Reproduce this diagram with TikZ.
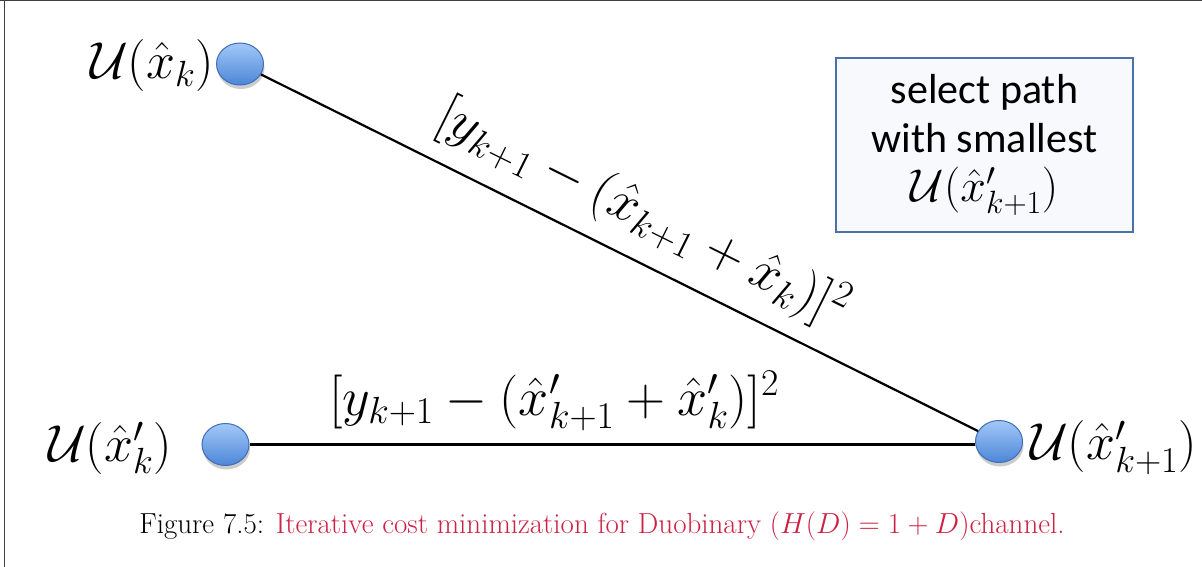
\RequirePackage{fix-cm}
\documentclass[tikz,border=0pt]{standalone}
\usepackage{amsmath}
\usepackage{fontspec}
\newfontfamily\calibri{Carlito}
\usetikzlibrary{shadows,shapes.geometric}
\definecolor{nodetop}{HTML}{A3C8F8}
\definecolor{nodebot}{HTML}{4C86D8}
\definecolor{nodeline}{HTML}{3F6EB4}
\definecolor{boxline}{HTML}{4A72A8}
\definecolor{boxfill}{HTML}{F7F9FC}
\definecolor{capred}{HTML}{CC2244}
\tikzset{
  dot/.style={ellipse, minimum width=47pt, minimum height=42pt, inner sep=0pt,
    draw=nodeline, line width=1pt, top color=nodetop, bottom color=nodebot,
    drop shadow={shadow xshift=1pt, shadow yshift=-4pt, opacity=0.2, fill=black}},
  lbl/.style={inner sep=0pt, font=\fontsize{52}{60}\selectfont},
  elbl/.style={inner sep=0pt, font=\fontsize{54}{62}\selectfont},
  edge/.style={line width=2.2pt, black},
  frame/.style={line width=1pt, black!75},
}
\begin{document}
\begin{tikzpicture}[x=1pt,y=-1pt]
\useasboundingbox (0,0) rectangle (1202,567);
\draw[frame] (0,1) -- (1202,1);
\draw[frame] (4,0) -- (4,567);
\node[dot] (a) at (240,64) {};
\node[dot] (b) at (225.5,444.5) {};
\node[dot] (c) at (999,441.5) {};
\draw[edge] (a) -- (c);
\draw[edge] (b) -- (b -| c.west);
\node[lbl, anchor=east] (la) at (214,66) {$\mathcal{U}(\hat{x}_k)$};
\node[lbl, anchor=east] (lb) at (172,448) {$\mathcal{U}(\hat{x}'_k)$};
\node[lbl, anchor=west] (lc) at (1030,448) {$\mathcal{U}(\hat{x}'_{k+1})$};
\node[elbl] (e2) at (554,401) {$[y_{k+1}-(\hat{x}'_{k+1}+\hat{x}'_k)]^2$};
\node[elbl, rotate=-26.4] (e1) at (643,213) {$[y_{k+1}-(\hat{x}_{k+1}+\hat{x}_k)]^2$};
\node[draw=boxline, fill=boxfill, line width=1.5pt, minimum width=297pt, minimum height=174pt,
  inner sep=0pt, align=center, font=\calibri\fontsize{42}{49}\selectfont] (box) at (984.5,145)
  {select path\\with smallest\\{\fontsize{46}{49}\selectfont$\mathcal{U}(\hat{x}'_{k+1})$}};
\node[inner sep=0pt, font=\fontsize{29}{34}\selectfont] (cap) at (602,526)
  {Figure 7.5: \textcolor{capred}{Iterative cost minimization for Duobinary $(H(D)=1+D)$channel.}};
\end{tikzpicture}
\end{document}
